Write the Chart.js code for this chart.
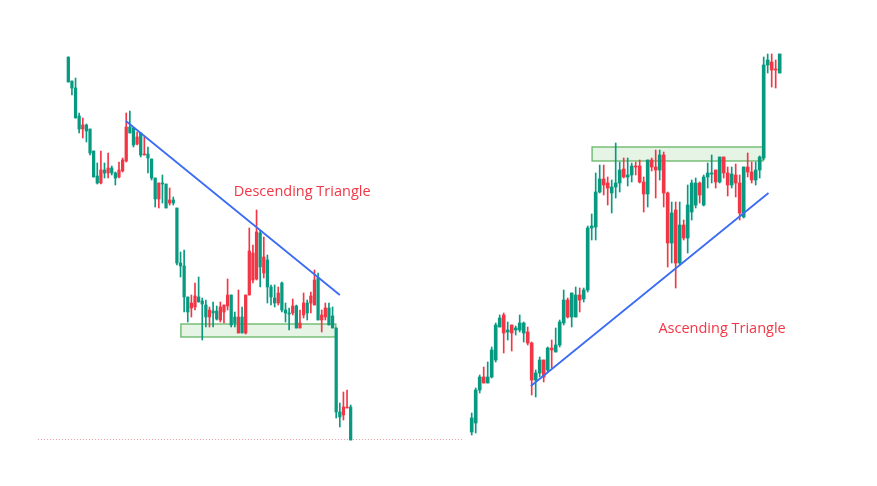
<!DOCTYPE html>
<html>
<head>
<meta charset="utf-8">
<script src="https://cdn.jsdelivr.net/npm/chart.js@4"></script>
<style>
  html, body { margin: 0; padding: 0; background: #fff; }
  #wrap { width: 877px; height: 486px; }
</style>
</head>
<body>
<div id="wrap"><canvas id="chart"></canvas></div>
<script>
// Left chart (descending triangle), one value per candle
const leftOpen = [418,412,382,371,375,369,347,323,317,330, 327,332,327,322,330,340,373,367,355,363,
  345,346,342,322,301,317,316,292,300,297, 237,234,203,188,197,204,198,196,183,190,
  187,181,193,195,205,175,177,183,167,205, 249,247,268,233,243,213,203,197,207,190,
  187,186,194,172,177,197,187,204,220,180, 185,192,175,172,88,83,93,93,60];
const leftHigh = [443,419,422,387,382,376,371,349,337,349, 337,347,334,328,338,342,387,389,372,368,
  367,363,353,341,322,317,325,316,312,303, 292,248,250,203,205,217,223,202,200,193,
  198,194,198,195,221,205,188,210,193,205, 272,255,290,270,263,245,215,215,213,218,
  197,192,201,195,190,207,200,208,230,227, 190,197,197,193,172,97,108,110,95];
const leftLow = [418,405,382,367,362,358,345,323,316,316, 322,322,325,315,322,328,338,367,353,355,
  343,345,327,320,293,292,297,292,295,295, 235,223,188,178,183,190,198,160,173,173,
  173,180,178,177,190,173,173,167,167,166, 205,217,220,213,222,197,195,193,195,188,
  178,170,185,172,172,182,180,187,195,180, 168,180,175,172,82,73,80,92,60];
const leftClose = [443,419,412,384,371,375,371,349,324,317, 330,327,332,327,323,329,339,373,372,356,
  367,345,346,341,322,301,317,316,297,300, 292,237,234,203,192,193,203,199,195,183,
  189,189,180,188,194,205,183,167,183,167, 205,220,221,267,227,240,213,202,197,217,
  190,187,187,194,172,185,197,197,195,222, 180,183,192,184,172,88,85,92,93];

// Right chart (ascending triangle)
const rightOpen = [68,77,110,123,117,123,140,173,185,168, 175,170,170,167,168,157,120,127,140,130,
  152,148,155,177,200,183,183,205,201,210, 272,273,308,321,317,307,313,317,331,323,
  325,334,334,318,306,340,333,330,345,307, 257,290,237,275,262,288,295,317,295,323,
  326,330,318,343,327,315,325,317,283,333, 328,320,330,342,435,438,431,427];
const rightHigh = [87,112,125,133,138,153,177,185,187,178, 175,174,185,178,173,158,130,143,140,153,
  160,172,180,210,202,207,213,212,212,274, 286,327,335,335,323,320,357,338,342,342,
  337,338,340,323,340,342,350,350,348,308, 298,298,298,280,315,320,322,318,325,337,
  345,330,343,343,333,333,336,325,333,347, 338,338,344,443,446,446,440,446];
const rightLow = [65,67,107,117,117,122,138,173,147,160, 149,165,168,158,155,105,103,123,118,128,
  132,148,153,175,182,173,183,188,198,208, 260,260,307,305,295,287,302,308,322,314,
  318,325,317,288,293,329,302,320,293,233, 237,212,235,260,247,280,292,297,294,312,
  317,312,317,322,304,312,303,280,282,323, 317,315,322,340,427,413,412,427];
const rightClose = [82,110,123,117,123,150,175,182,167,170, 167,172,177,177,157,120,127,140,123,152,
  150,155,178,200,183,207,205,200,210,272, 274,308,321,315,312,313,317,330,323,325,
  334,333,318,306,340,333,330,345,307,257, 287,237,275,262,295,317,317,305,323,327,
  327,318,343,327,315,326,317,287,333,328, 320,330,343,435,440,430,430,446];

// Pattern drawings: [candle index, price]
const descLine = [[15.9, 379], [75.0, 205]];
const ascLine = [[14.8, 114], [74.2, 307]];
// zones: [from index, to index, low price, high price]
const supportZone = [31.1, 73.9, 163, 176];
const resistZone = [30.1, 72.8, 339, 353];
const lastPrice = 61;
const lastPriceSpan = [-8.4, 108.8];
const descLabel = ['Descending Triangle', 64.6, 308];
const ascLabel = ['Ascending Triangle', 62.6, 171];

const UP = '#089981';
const DOWN = '#f23645';

function candleSets(open, high, low, close, axis, bodyWidth) {
  const color = c => close[c.dataIndex] >= open[c.dataIndex] ? UP : DOWN;
  return [
    {
      type: 'bar',
      xAxisID: axis,
      data: open.map((o, i) => ({ x: i, y: [low[i], high[i]] })),
      backgroundColor: color,
      barThickness: 1,
      grouped: false,
      order: 2
    },
    {
      type: 'bar',
      xAxisID: axis,
      data: open.map((o, i) => ({ x: i, y: [o, close[i]] })),
      backgroundColor: color,
      barThickness: bodyWidth,
      minBarLength: 1,
      grouped: false,
      order: 1
    }
  ];
}

function trendSet(pts, axis) {
  return {
    type: 'line',
    xAxisID: axis,
    data: pts.map(p => ({ x: p[0], y: p[1] })),
    borderColor: '#3a6cf4',
    borderWidth: 1.8,
    pointRadius: 0,
    order: 0
  };
}

const overlay = {
  id: 'overlay',
  beforeDatasetsDraw(chart) {
    const { ctx, scales } = chart;
    const y = scales.y;

    // last price dotted line
    const xl = scales.xl;
    ctx.save();
    ctx.strokeStyle = 'rgba(226,120,135,0.75)';
    ctx.lineWidth = 1;
    ctx.setLineDash([1, 2]);
    ctx.beginPath();
    const py = Math.round(y.getPixelForValue(lastPrice)) + 0.5;
    ctx.moveTo(xl.getPixelForValue(lastPriceSpan[0]), py);
    ctx.lineTo(xl.getPixelForValue(lastPriceSpan[1]), py);
    ctx.stroke();
    ctx.restore();

    const drawZone = (z, xs) => {
      const x0 = xs.getPixelForValue(z[0]);
      const x1 = xs.getPixelForValue(z[1]);
      const y0 = y.getPixelForValue(z[3]);
      const y1 = y.getPixelForValue(z[2]);
      ctx.save();
      ctx.fillStyle = 'rgba(76,175,80,0.14)';
      ctx.strokeStyle = 'rgba(96,180,96,0.9)';
      ctx.lineWidth = 1.4;
      ctx.fillRect(x0, y0, x1 - x0, y1 - y0);
      ctx.strokeRect(x0, y0, x1 - x0, y1 - y0);
      ctx.restore();
    };
    drawZone(supportZone, scales.xl);
    drawZone(resistZone, scales.xr);
  },
  afterDatasetsDraw(chart) {
    const { ctx, scales } = chart;
    ctx.save();
    ctx.fillStyle = '#f23645';
    ctx.font = '14.5px "Open Sans"';
    ctx.textAlign = 'center';
    ctx.textBaseline = 'middle';
    ctx.fillText(descLabel[0], scales.xl.getPixelForValue(descLabel[1]), scales.y.getPixelForValue(descLabel[2]));
    ctx.fillText(ascLabel[0], scales.xr.getPixelForValue(ascLabel[1]), scales.y.getPixelForValue(ascLabel[2]));
    ctx.restore();
  }
};

new Chart(document.getElementById('chart'), {
  type: 'bar',
  data: {
    datasets: [
      ...candleSets(leftOpen, leftHigh, leftLow, leftClose, 'xl', 2.6),
      ...candleSets(rightOpen, rightHigh, rightLow, rightClose, 'xr', 3),
      trendSet(descLine, 'xl'),
      trendSet(ascLine, 'xr')
    ]
  },
  options: {
    responsive: true,
    maintainAspectRatio: false,
    animation: false,
    layout: { padding: 0 },
    plugins: {
      legend: { display: false },
      tooltip: { enabled: false }
    },
    scales: {
      xl: { type: 'linear', min: -18.87, max: 223.4, offset: false, display: false },
      xr: { type: 'linear', min: -117.93, max: 101.33, offset: false, display: false },
      y: { type: 'linear', min: 14, max: 500, display: false }
    }
  },
  plugins: [overlay]
});
</script>
</body>
</html>
